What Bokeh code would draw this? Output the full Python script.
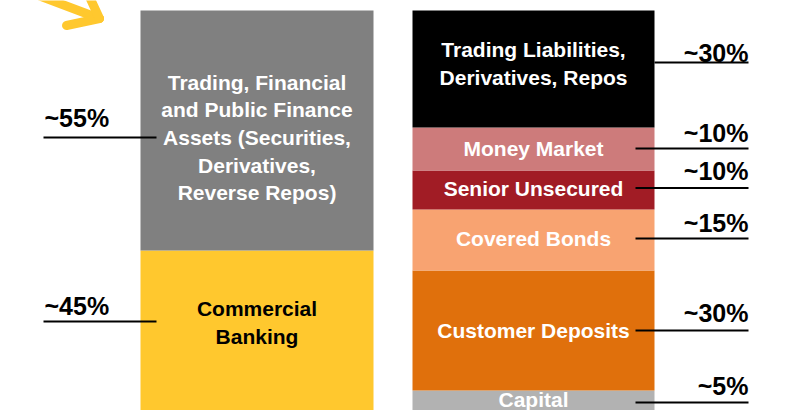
from bokeh.plotting import figure
from bokeh.models import Range1d, ColumnDataSource
from bokeh.core.properties import value
from bokeh.embed import file_html
from bokeh.resources import INLINE

# ---- data ----
assets_labels = ["Commercial\nBanking",
                 "Trading, Financial\nand Public Finance\nAssets (Securities,\nDerivatives,\nReverse Repos)"]
assets_values = [40, 60]
assets_pct = ["~45%", "~55%"]

liab_labels = ["Capital", "Customer Deposits", "Covered Bonds", "Senior Unsecured",
               "Money Market", "Trading Liabilities,\nDerivatives, Repos"]
liab_values = [5, 30, 15.25, 9.75, 10.75, 29.25]
liab_pct = ["~5%", "~30%", "~15%", "~10%", "~10%", "~30%"]

# ---- styles / layout ----
assets_colors = ["#FFC82E", "#808080"]
assets_text_colors = ["#000000", "#FFFFFF"]
liab_colors = ["#B2B2B2", "#E0700C", "#F8A371", "#A11C25", "#CD7B7B", "#000000"]
liab_text_colors = ["#FFFFFF"] * 6

W, H = 789, 410
YMAX = 102.5
PX = H / YMAX  # pixels per unit

left_x, left_w = 248.5, 233
right_x, right_w = 525, 242

# offsets (px, screen-down positive)
assets_label_dy = [-8, 7]
assets_line_dy = [-9, 7]
assets_pct_gap = [6, 10]
liab_label_dy = [-1, 0, -1.5, -1.5, -1, -5.5]
liab_line_dy = [2, 0, -1.5, -2, -0.5, -6.5]
liab_pct_gap = [7, 8, 6, 7, 6, 0]
BASE_FIX = 10  # rendered alphabetic baseline correction

FONT = value("Liberation Sans")

p = figure(width=W, height=H, output_backend="svg", toolbar_location=None,
           x_range=Range1d(-8, W - 8), y_range=Range1d(0, YMAX),
           min_border=0, min_border_left=0, min_border_right=0,
           min_border_top=0, min_border_bottom=0)
p.axis.visible = False
p.grid.visible = False
p.outline_line_color = None
p.background_fill_color = None
p.border_fill_color = None


def stack(vals):
    bottoms, tops, mids = [], [], []
    acc = 0
    for v in vals:
        bottoms.append(acc)
        acc += v
        tops.append(acc)
        mids.append((bottoms[-1] + tops[-1]) / 2)
    return bottoms, tops, mids


def draw(xc, w, vals, labels, colors, tcolors, pct, label_dy, line_dy, gaps,
         line_x0, line_x1, pct_align):
    b, t, m = stack(vals)
    src = ColumnDataSource(dict(x=[xc] * len(vals), bottom=b, top=t, color=colors))
    p.vbar(x="x", width=w, bottom="bottom", top="top", fill_color="color",
           line_color=None, source=src)
    ly = [mi - d / PX for mi, d in zip(m, label_dy)]
    p.text(x=[xc] * len(vals), y=ly, text=labels, text_color=tcolors,
           text_font=FONT, text_font_style="bold", text_font_size="21px",
           text_align="center", text_baseline="middle", text_line_height=1.2)
    liney = [mi - d / PX for mi, d in zip(m, line_dy)]
    xs = [[x0, x1] for x0, x1 in zip(line_x0, line_x1)]
    ys = [[y, y] for y in liney]
    p.multi_line(xs=xs, ys=ys, line_color="#000000", line_width=2)
    ty = [y + (g + BASE_FIX) / PX for y, g in zip(liney, gaps)]
    tx = list(line_x1) if pct_align == "right" else [x0 + 1 for x0 in line_x0]
    p.text(x=tx, y=ty, text=pct, text_color="#000000", text_font=FONT,
           text_font_style="bold", text_font_size="25px",
           text_align=pct_align, text_baseline="alphabetic")


draw(left_x, left_w, assets_values, assets_labels, assets_colors, assets_text_colors,
     assets_pct, assets_label_dy, assets_line_dy, assets_pct_gap,
     [35, 35], [148, 148], "left")
draw(right_x, right_w, liab_values, liab_labels, liab_colors, liab_text_colors,
     liab_pct, liab_label_dy, liab_line_dy, liab_pct_gap,
     [627, 627, 627, 627, 627, 646], [740] * 6, "right")

# decorative arrow (top-left)
def sy(y):
    return YMAX - y / PX

arrow_xs = [[22, 91], [58, 91], [79, 91]]
arrow_ys = [[sy(-8), sy(18)], [sy(25), sy(18)], [sy(-8), sy(18)]]
p.multi_line(xs=arrow_xs, ys=arrow_ys, line_color="#FFC82E", line_width=9,
             line_cap="round", line_join="round")

open("out.html", "w").write(file_html(p, INLINE))
